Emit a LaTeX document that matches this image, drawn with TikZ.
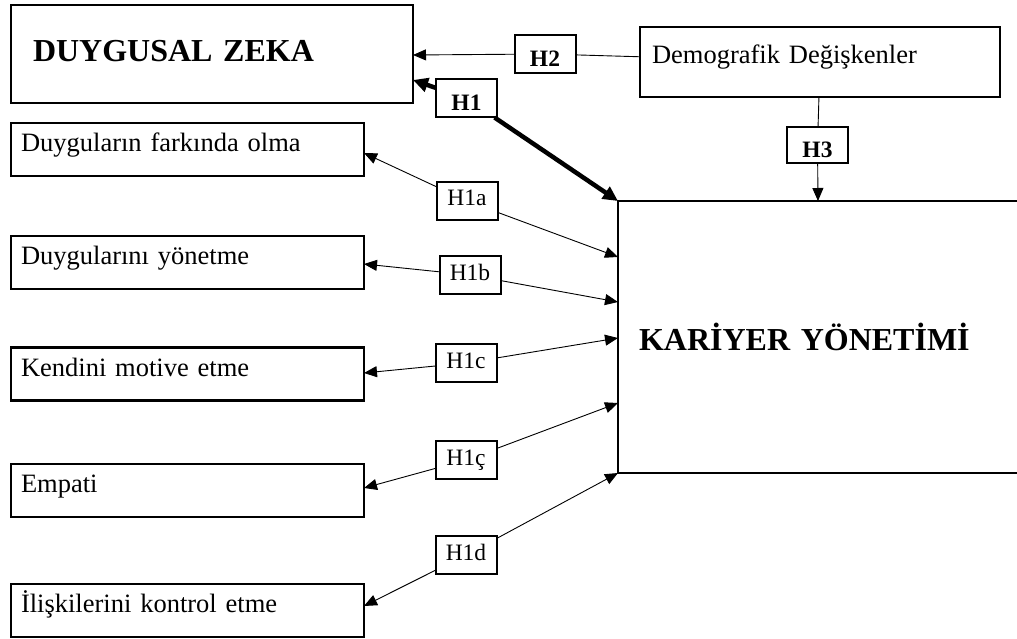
\documentclass[tikz,border=0pt]{standalone}
\usepackage{fontspec}
\setmainfont{Liberation Serif}
\usetikzlibrary{arrows.meta}
\begin{document}
\begin{tikzpicture}[x=1pt,y=-1pt,
  box/.style={draw,line width=2.2pt,rectangle,inner ysep=0pt,outer sep=0pt},
  lbox/.style={box, minimum width=353pt, minimum height=53pt, text width=333pt, align=left, inner xsep=10pt, text height=18pt, text depth=14pt, font=\fontsize{26.5}{30}\selectfont},
  hbox/.style={box, fill=white, minimum width=61pt, minimum height=38pt, inner xsep=2pt, line width=2pt, font=\fontsize{23.5}{26}\selectfont, text height=15pt, text depth=5pt},
  hbold/.style={hbox, font=\bfseries\fontsize{23.5}{26}\selectfont, text height=28pt, text depth=3pt},
  arr/.style={-{Triangle[length=13pt,width=11pt]}, line width=0.9pt},
  thickarr/.style={-{Triangle[length=15pt,width=14pt]}, line width=4.5pt},
  plain/.style={line width=0.9pt},
]
\useasboundingbox (0,0) rectangle (1017,639);

% main boxes
\node[box, minimum width=402pt, minimum height=98pt, text width=358pt, inner xsep=22pt, align=left, text height=22pt, text depth=6pt, font=\bfseries\fontsize{32}{36}\selectfont] (dz) at (212,54) {DUYGUSAL ZEKA};
\node[box, minimum width=360pt, minimum height=70pt, text width=336pt, inner xsep=12pt, align=left, text height=18pt, text depth=14pt, font=\fontsize{26.5}{30}\selectfont] (demo) at (820,62) {Demografik Değişkenler};
\node[box, minimum width=412pt, minimum height=272pt, text width=370pt, inner xsep=21pt, align=left, text height=30pt, text depth=4pt, font=\bfseries\fontsize{32}{36}\selectfont] (kar) at (824,337) {KARİYER YÖNETİMİ};

% left boxes
\node[lbox] (f1) at (187.5,149.5) {Duyguların farkında olma};
\node[lbox] (f2) at (187.5,262.5) {Duygularını yönetme};
\node[lbox] (f3) at (187.5,374) {Kendini motive etme};
\node[lbox] (f4) at (187.5,490.5) {Empati};
\node[lbox] (f5) at (187.5,610.5) {İlişkilerini kontrol etme};

% hypothesis labels
\node[hbold] (h1) at (466.5,98.5) {H1};
\node[hbold] (h2) at (545,54) {H2};
\node[hbold, minimum height=36pt] (h3) at (817.5,145) {H3};
\node[hbox] (h1a) at (467,201) {H1a};
\node[hbox] (h1b) at (470,275) {H1b};
\node[hbox] (h1c) at (466,363) {H1c};
\node[hbox] (h1cc) at (466,460) {H1ç};
\node[hbox] (h1d) at (466,555) {H1d};

% arrow end points on box borders
\coordinate (t1) at (413,80);
\coordinate (t2) at (413,55);
\coordinate (k1) at (618,201);
\coordinate (k3) at (818,201);
\coordinate (ka) at (618,257);
\coordinate (kb) at (618,302);
\coordinate (kc) at (618,338);
\coordinate (kcc) at (618,403);
\coordinate (kd) at (618,473);
\coordinate (fa) at (364,153);
\coordinate (fb) at (364,264);
\coordinate (fc) at (364,373);
\coordinate (fcc) at (364,488);
\coordinate (fd) at (364,606);

% connectors
\draw[thickarr] (h1) -- (t1);
\draw[thickarr] (h1) -- (k1);
\draw[arr] (h2) -- (t2);
\draw[plain] (h2) -- (demo);
\draw[plain] (demo) -- (h3);
\draw[arr] (h3) -- (k3);
\draw[arr] (h1a) -- (fa);
\draw[arr] (h1a) -- (ka);
\draw[arr] (h1b) -- (fb);
\draw[arr] (h1b) -- (kb);
\draw[arr] (h1c) -- (fc);
\draw[arr] (h1c) -- (kc);
\draw[arr] (h1cc) -- (fcc);
\draw[arr] (h1cc) -- (kcc);
\draw[arr] (h1d) -- (fd);
\draw[arr] (h1d) -- (kd);
\end{tikzpicture}
\end{document}
